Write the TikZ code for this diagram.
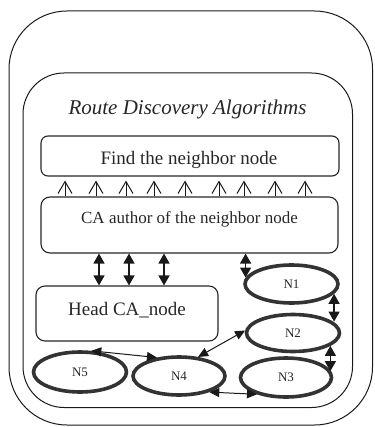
\documentclass[tikz,border=0pt]{standalone}
\usepackage{fontspec}
\setmainfont{Liberation Serif}
\usetikzlibrary{arrows.meta,shapes.geometric}
\begin{document}
\begin{tikzpicture}[x=1pt,y=-1pt,
  frame/.style={draw=black!90, line width=1pt, rounded corners=#1},
  box/.style={draw=black!85, line width=1.1pt, rounded corners=7pt, inner sep=0pt},
  txt/.style={anchor=base, inner sep=0pt, text=black!85},
  nd/.style={ellipse, draw=black!80, line width=3.6pt, inner sep=0pt,
             font=\fontsize{13}{15}\selectfont, text=black!85},
  openarr/.style={-{Straight Barb[length=12pt,width=14pt]}, line width=1pt, draw=black!90, shorten >=4pt},
  dbl/.style={{Triangle[length=10pt,width=11pt]}-{Triangle[length=10pt,width=11pt]}, line width=1.3pt, draw=black!90},
  thin/.style={{Triangle[length=10pt,width=9pt]}-{Triangle[length=10pt,width=9pt]}, line width=1pt, draw=black!90}
]
\useasboundingbox (0,0) rectangle (374,427);
% frames
\draw[frame=58pt] (9,11) rectangle (372.5,425);
\draw[frame=41pt] (23,73) rectangle (352.5,407.5);
\node[txt, font=\fontsize{21}{25}\selectfont\itshape] (title) at (187.5,115) {Route Discovery Algorithms};
% boxes
\node[box, minimum width=298pt, minimum height=40pt] (Find) at (190,156) {};
\node[txt, font=\fontsize{19}{23}\selectfont] (FindT) at (189,165) {Find the neighbor node};
\node[box, rounded corners=9pt, minimum width=297pt, minimum height=56pt] (CA) at (189.5,225) {};
\node[txt, font=\fontsize{17}{21}\selectfont] (CAT) at (189.5,223) {CA author of the neighbor node};
\node[box, rounded corners=9pt, minimum width=182pt, minimum height=55pt] (Head) at (127,313.5) {};
\node[txt, font=\fontsize{19}{23}\selectfont] (HeadT) at (127,315) {Head CA\_node};
% open arrows
\foreach \i/\x in {1/65,2/96,3/126,4/154,5/185,6/219,7/244,8/275,9/305}{
  \coordinate (u\i) at (\x,0);
  \draw[openarr] (CA.north -| u\i) -- (Find.south -| u\i);
}
% double arrows CA - Head
\foreach \i/\x in {1/99,2/129,3/164}{
  \coordinate (v\i) at (\x,0);
  \draw[dbl] (CA.south -| v\i) -- (Head.north -| v\i);
}
% ellipses
\node[nd, minimum width=93pt, minimum height=38pt] (N1) at (291.5,284) {N1};
\node[nd, minimum width=93pt, minimum height=37pt] (N2) at (293,333) {N2};
\node[nd, minimum width=91pt, minimum height=39pt] (N3) at (286,377.5) {N3};
\node[nd, minimum width=92pt, minimum height=38pt] (N4) at (179,376) {N4};
\node[nd, minimum width=93pt, minimum height=40pt] (N5) at (80,372) {N5};
% connectors
\draw[dbl] (CA.south -| N1.172) -- (N1.172);
\draw[dbl] (N1.-13) -- (N1.-13 |- N2.16);
\draw[dbl] (N2.-19) -- (N2.-19 |- N3.8);
\draw[thin] (N2.177) -- (N4.45);
\draw[thin] (N5.62) -- (N4.140);
\draw[thin] (N4.-28) -- (N3.-150);
\end{tikzpicture}
\end{document}
